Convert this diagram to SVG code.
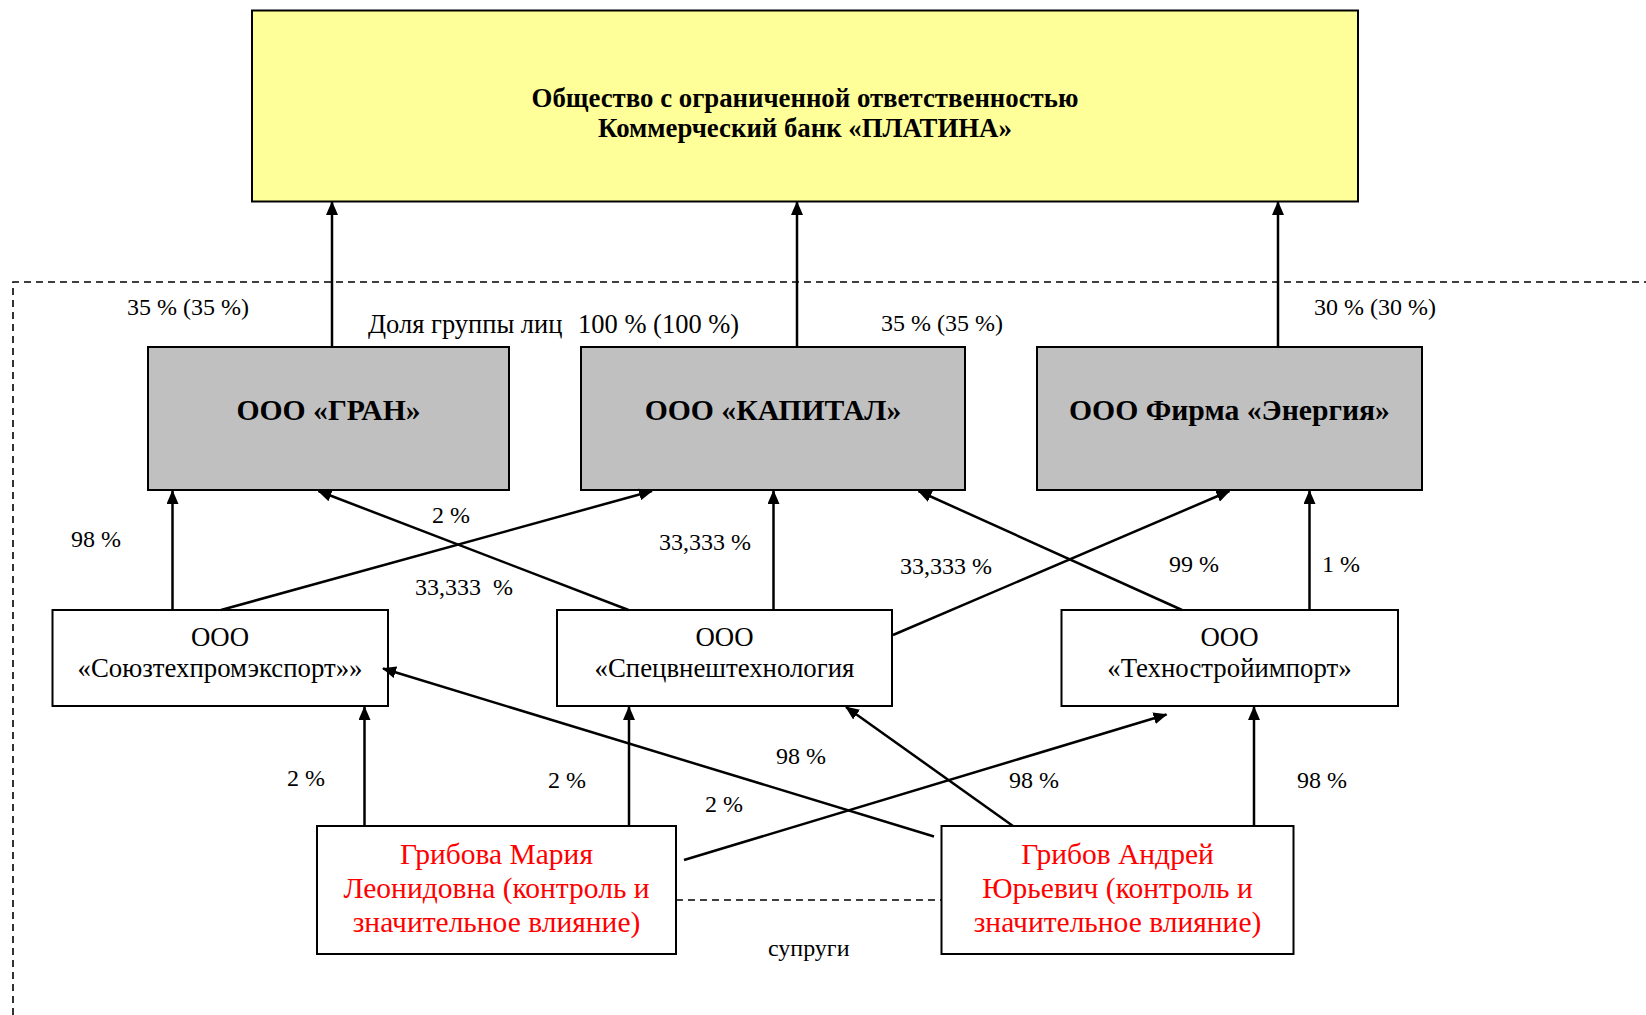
<svg xmlns="http://www.w3.org/2000/svg" width="1646" height="1015" viewBox="0 0 1646 1015">
<style>
.box{stroke:#000;stroke-width:2}
.yel{fill:#FFFF99}
.gray{fill:#C0C0C0}
.wht{fill:#fff}
.t{font-family:"Liberation Serif","Times New Roman",serif;fill:#000}
.b{font-weight:bold}
.red{fill:#FF0000}
.lbl{font-family:"Liberation Serif","Times New Roman",serif;font-size:24px;fill:#000}
.big{font-size:26.5px}
.ar{stroke:#000;stroke-width:2.5;fill:none;marker-end:url(#ah)}
.dash{stroke:#000;stroke-width:1.6;fill:none;stroke-dasharray:7 5}
</style>
<defs>
<marker id="ah" markerUnits="userSpaceOnUse" markerWidth="14" markerHeight="12" refX="13" refY="6" orient="auto">
<path d="M0,0 L14,6 L0,12 z" fill="#000"/>
</marker>
</defs>
<rect width="1646" height="1015" fill="#fff"/>
<path class="dash" d="M13,1015 L13,282 L1646,282"/>

<g id="bank">
<rect class="box yel" x="252" y="10.5" width="1106" height="191"/>
<text class="t b" x="805" y="107" font-size="26.8" text-anchor="middle">Общество с ограниченной ответственностью</text>
<text class="t b" x="805" y="137" font-size="26.8" text-anchor="middle">Коммерческий банк «ПЛАТИНА»</text>
</g>

<g id="gran">
<rect class="box gray" x="148" y="347" width="361" height="143"/>
<text class="t b" x="328.5" y="420" font-size="29.7" text-anchor="middle">ООО «ГРАН»</text>
</g>
<g id="kapital">
<rect class="box gray" x="581" y="347" width="384" height="143"/>
<text class="t b" x="773" y="420" font-size="29.7" text-anchor="middle">ООО «КАПИТАЛ»</text>
</g>
<g id="energia">
<rect class="box gray" x="1037" y="347" width="385" height="143"/>
<text class="t b" x="1229.5" y="420" font-size="29.7" text-anchor="middle">ООО Фирма «Энергия»</text>
</g>

<g id="soyuz">
<rect class="box wht" x="52.5" y="610" width="335.5" height="96"/>
<text class="t" x="220" y="646" font-size="26.8" text-anchor="middle">ООО</text>
<text class="t" x="220" y="677" font-size="26.8" text-anchor="middle">«Союзтехпромэкспорт»»</text>
</g>
<g id="spec">
<rect class="box wht" x="557" y="610" width="335" height="96"/>
<text class="t" x="724.5" y="646" font-size="26.8" text-anchor="middle">ООО</text>
<text class="t" x="724.5" y="677" font-size="26.8" text-anchor="middle">«Спецвнештехнология</text>
</g>
<g id="tehno">
<rect class="box wht" x="1061.5" y="610" width="336.5" height="96"/>
<text class="t" x="1229.5" y="646" font-size="26.8" text-anchor="middle">ООО</text>
<text class="t" x="1229.5" y="677" font-size="26.8" text-anchor="middle">«Техностройимпорт»</text>
</g>

<g id="gribova">
<rect class="box wht" x="317" y="826" width="359" height="128"/>
<text class="t red" x="496.5" y="864" font-size="29.5" text-anchor="middle">Грибова Мария</text>
<text class="t red" x="496.5" y="898" font-size="29.5" text-anchor="middle">Леонидовна (контроль и</text>
<text class="t red" x="496.5" y="932" font-size="29.5" text-anchor="middle">значительное влияние)</text>
</g>
<g id="gribov">
<rect class="box wht" x="941.5" y="826" width="352" height="128"/>
<text class="t red" x="1117.5" y="864" font-size="29.5" text-anchor="middle">Грибов Андрей</text>
<text class="t red" x="1117.5" y="898" font-size="29.5" text-anchor="middle">Юрьевич (контроль и</text>
<text class="t red" x="1117.5" y="932" font-size="29.5" text-anchor="middle">значительное влияние)</text>
</g>

<g id="connectors">
<line class="ar" x1="332" y1="347" x2="332" y2="202"/>
<line class="ar" x1="797" y1="347" x2="797" y2="202"/>
<line class="ar" x1="1278" y1="347" x2="1278" y2="202"/>

<line class="ar" x1="172.5" y1="610" x2="172.5" y2="491"/>
<line class="ar" x1="221" y1="610" x2="652" y2="491"/>
<line class="ar" x1="628.5" y1="610" x2="318.5" y2="491"/>
<line class="ar" x1="773.5" y1="610" x2="773.5" y2="491"/>
<line class="ar" x1="893" y1="635" x2="1229.5" y2="491"/>
<line class="ar" x1="1182" y1="610" x2="918.5" y2="491"/>
<line class="ar" x1="1309.5" y1="610" x2="1309.5" y2="491"/>

<line class="ar" x1="364.5" y1="826" x2="364.5" y2="707"/>
<line class="ar" x1="629" y1="826" x2="629" y2="707"/>
<line class="ar" x1="684" y1="860" x2="1166.5" y2="714.5"/>
<line class="ar" x1="934" y1="836.5" x2="383" y2="668.5"/>
<line class="ar" x1="1013" y1="826" x2="846" y2="707"/>
<line class="ar" x1="1254" y1="826" x2="1254" y2="707"/>

<line class="dash" x1="676" y1="900" x2="941.5" y2="900"/>
</g>

<g id="labels">
<text class="lbl" x="127" y="315">35 % (35 %)</text>
<text class="lbl big" x="368" y="333">Доля группы лиц</text>
<text class="lbl big" x="578" y="333">100 % (100 %)</text>
<text class="lbl" x="881" y="331">35 % (35 %)</text>
<text class="lbl" x="1314" y="315">30 % (30 %)</text>
<text class="lbl" x="71" y="547">98 %</text>
<text class="lbl" x="432" y="523">2 %</text>
<text class="lbl" x="415" y="595" xml:space="preserve">33,333  %</text>
<text class="lbl" x="659" y="550">33,333 %</text>
<text class="lbl" x="900" y="574">33,333 %</text>
<text class="lbl" x="1169" y="572">99 %</text>
<text class="lbl" x="1322" y="572">1 %</text>
<text class="lbl" x="287" y="786">2 %</text>
<text class="lbl" x="548" y="788">2 %</text>
<text class="lbl" x="705" y="812">2 %</text>
<text class="lbl" x="776" y="764">98 %</text>
<text class="lbl" x="1009" y="788">98 %</text>
<text class="lbl" x="1297" y="788">98 %</text>
<text class="lbl" x="768" y="956">супруги</text>
</g>
</svg>
